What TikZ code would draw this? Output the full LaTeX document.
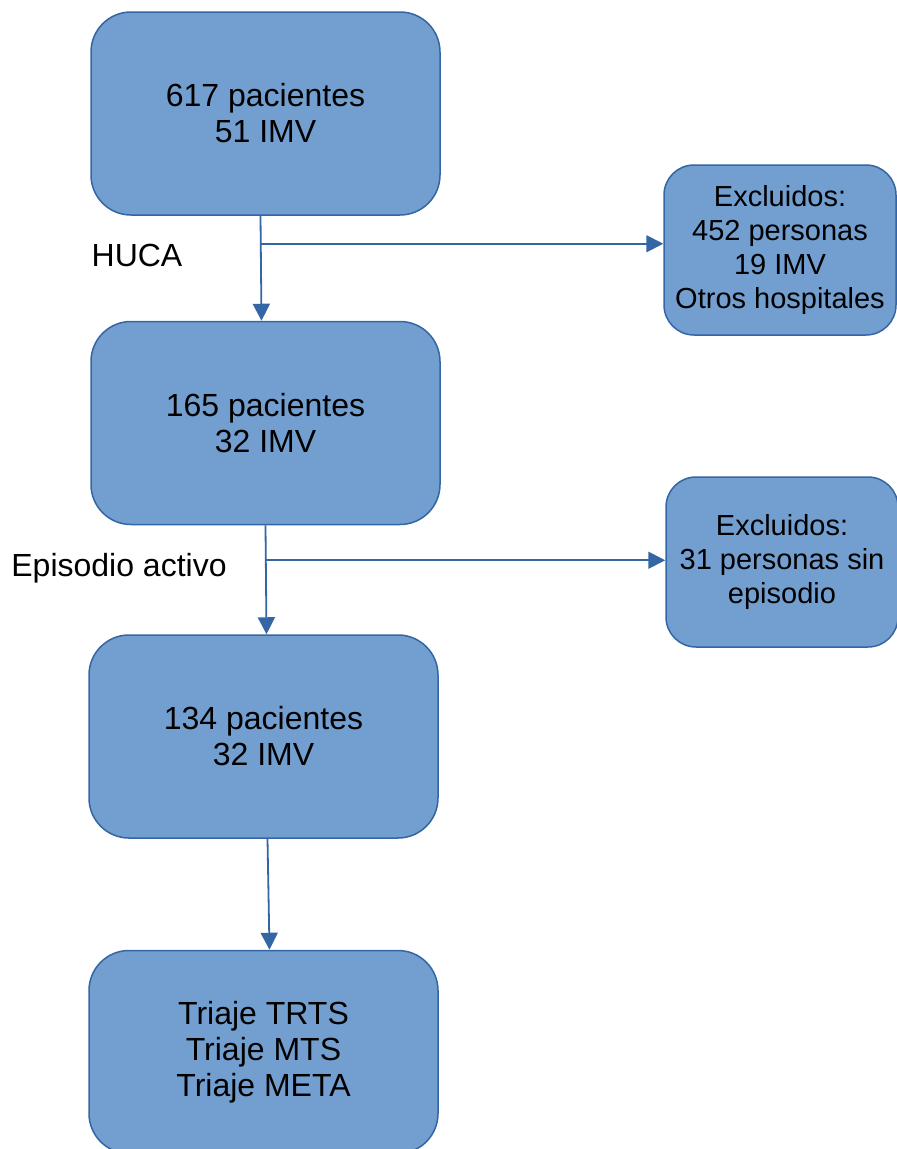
\documentclass[tikz,border=0pt]{standalone}
\usepackage{fontspec}
\setmainfont{Liberation Sans}
\usetikzlibrary{positioning,arrows.meta,calc}
\definecolor{boxFill}{HTML}{729FCF}
\definecolor{boxLine}{HTML}{3465A4}

\begin{document}
\begin{tikzpicture}[x=1pt,y=1pt,node distance=107pt]
	%defines
	\tikzstyle{patientBox} = [rectangle, rounded corners=40pt, minimum width=349pt, minimum height=203pt, text centered, align=center, fill=boxFill, draw=boxLine, line width=1.5pt, font=\fontsize{32}{36}\selectfont]
	\tikzstyle{excludedBox} = [rectangle, rounded corners=30pt, minimum width=232pt, minimum height=170pt, text centered, align=center, fill=boxFill, draw=boxLine, line width=1.5pt, font=\fontsize{29}{34}\selectfont]
	\tikzstyle{stepLabel} = [font=\fontsize{32}{36}\selectfont]
	\tikzstyle{arrow} = [line width=1.8pt, draw=boxLine, -{Triangle[length=17pt,width=17pt,fill=boxLine]}]
	\useasboundingbox (0,0) rectangle (897,-1149);
	%chart
	\node (patients617) [patientBox] at (265.5,-113.5) {617 pacientes\\51 IMV};
	\node (patients165) [patientBox, below=105pt of patients617] {165 pacientes\\32 IMV};
	\node (patients134) [patientBox, below=109pt of patients165, xshift=-2pt] {134 pacientes\\32 IMV};
	\node (triage) [patientBox, below=111pt of patients134] {Triaje TRTS\\Triaje MTS\\Triaje META};
	\node (excluded452) [excludedBox] at (780,-250) {Excluidos:\\452 personas\\19 IMV\\Otros hospitales};
	\node (excluded31) [excludedBox] at (782,-562) {Excluidos:\\31 personas sin\\episodio};
	\node (hucaLabel) [stepLabel] at (137,-255) {HUCA};
	\node (episodeLabel) [stepLabel] at (119,-568) {Episodio activo};
	%connectors
	\coordinate (hucaSplit) at ($(patients617.south)+(-5,-28)$);
	\coordinate (episodeSplit) at ($(patients165.south)+(0,-35)$);
	\draw [arrow] ($(patients617.south)+(-5,0)$) -- ($(patients165.north)+(-4,0)$);
	\draw [arrow] (hucaSplit) -- (hucaSplit -| excluded452.west);
	\draw [arrow] (patients165.south) -- ($(patients134.north)+(3,0)$);
	\draw [arrow] (episodeSplit) -- (episodeSplit -| excluded31.west);
	\draw [arrow] ($(patients134.south)+(4,0)$) -- ($(triage.north)+(6,0)$);
\end{tikzpicture}
\end{document}
